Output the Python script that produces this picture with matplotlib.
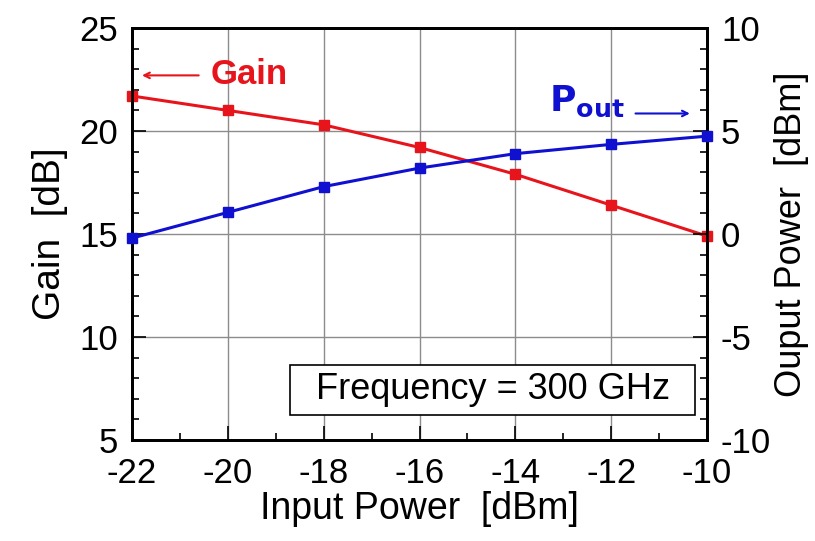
import numpy as np
import matplotlib.pyplot as plt
import matplotlib.patches as patches
from matplotlib.ticker import MultipleLocator

plt.rcParams['font.family'] = ['Liberation Sans', 'DejaVu Sans']
plt.rcParams['axes.unicode_minus'] = False

# data
input_power = [-22, -20, -18, -16, -14, -12, -10]
gain_db = [21.7, 21.0, 20.3, 19.2, 17.9, 16.4, 14.9]
pout_dbm = [-0.2, 1.05, 2.3, 3.2, 3.9, 4.35, 4.75]

fig = plt.figure(figsize=(8.15, 5.41), dpi=100)
ax = fig.add_axes([132 / 815, 101 / 541, 575 / 815, 412 / 541])
ax2 = ax.twinx()

ax.plot(input_power, gain_db, color='#e8141c', lw=2.2, marker='s', ms=7, zorder=3, clip_on=False)
ax2.plot(input_power, pout_dbm, color='#1010d0', lw=2.2, marker='s', ms=7, zorder=3, clip_on=False)

ax.set_xlim(-22, -10)
ax.set_ylim(5, 25)
ax2.set_ylim(-10, 10)

ax.xaxis.set_major_locator(MultipleLocator(2))
ax.xaxis.set_minor_locator(MultipleLocator(1))
ax.yaxis.set_major_locator(MultipleLocator(5))
ax.yaxis.set_minor_locator(MultipleLocator(1))
ax2.yaxis.set_major_locator(MultipleLocator(5))
ax2.yaxis.set_minor_locator(MultipleLocator(1))

ax.grid(True, which='major', color='#8c8c8c', lw=1)
ax.set_axisbelow(True)

for a in (ax, ax2):
    a.tick_params(which='both', direction='in', labelsize=25, width=1.2, pad=10)
    a.tick_params(which='major', length=10)
    a.tick_params(which='minor', length=5)
    for s in a.spines.values():
        s.set_linewidth(2)
ax.tick_params(axis='x', which='both', top=False, pad=12)

ax.set_xlabel('Input Power  [dBm]', fontsize=27, labelpad=1)
ax.set_ylabel('Gain  [dB]', fontsize=28, labelpad=8)
ax2.set_ylabel('Ouput Power  [dBm]', fontsize=26, labelpad=2)

# series labels with arrows
ax.annotate('', xy=(-21.85, 22.7), xytext=(-20.55, 22.7),
            arrowprops=dict(arrowstyle='->', color='#e8141c', lw=1.5))
ax.text(-20.35, 22.75, 'Gain', color='#e8141c', fontsize=25, fontweight='bold',
        va='center', ha='left')
ax.text(-13.3, 21.45, r'$\mathbf{P}_{\mathbf{out}}$', color='#1010d0',
        fontsize=26, va='center', ha='left')
ax.annotate('', xy=(-10.3, 20.85), xytext=(-11.55, 20.85),
            arrowprops=dict(arrowstyle='->', color='#1010d0', lw=1.5))

# frequency note in a framed box
box = patches.Rectangle((-18.7, 6.2), 8.45, 2.45, fc='white', ec='black', lw=1.2, zorder=5)
ax.add_patch(box)
ax.text(-14.47, 7.43, 'Frequency = 300 GHz', fontsize=26, va='center', ha='center', zorder=6)

fig.savefig('out.png', dpi=100)
